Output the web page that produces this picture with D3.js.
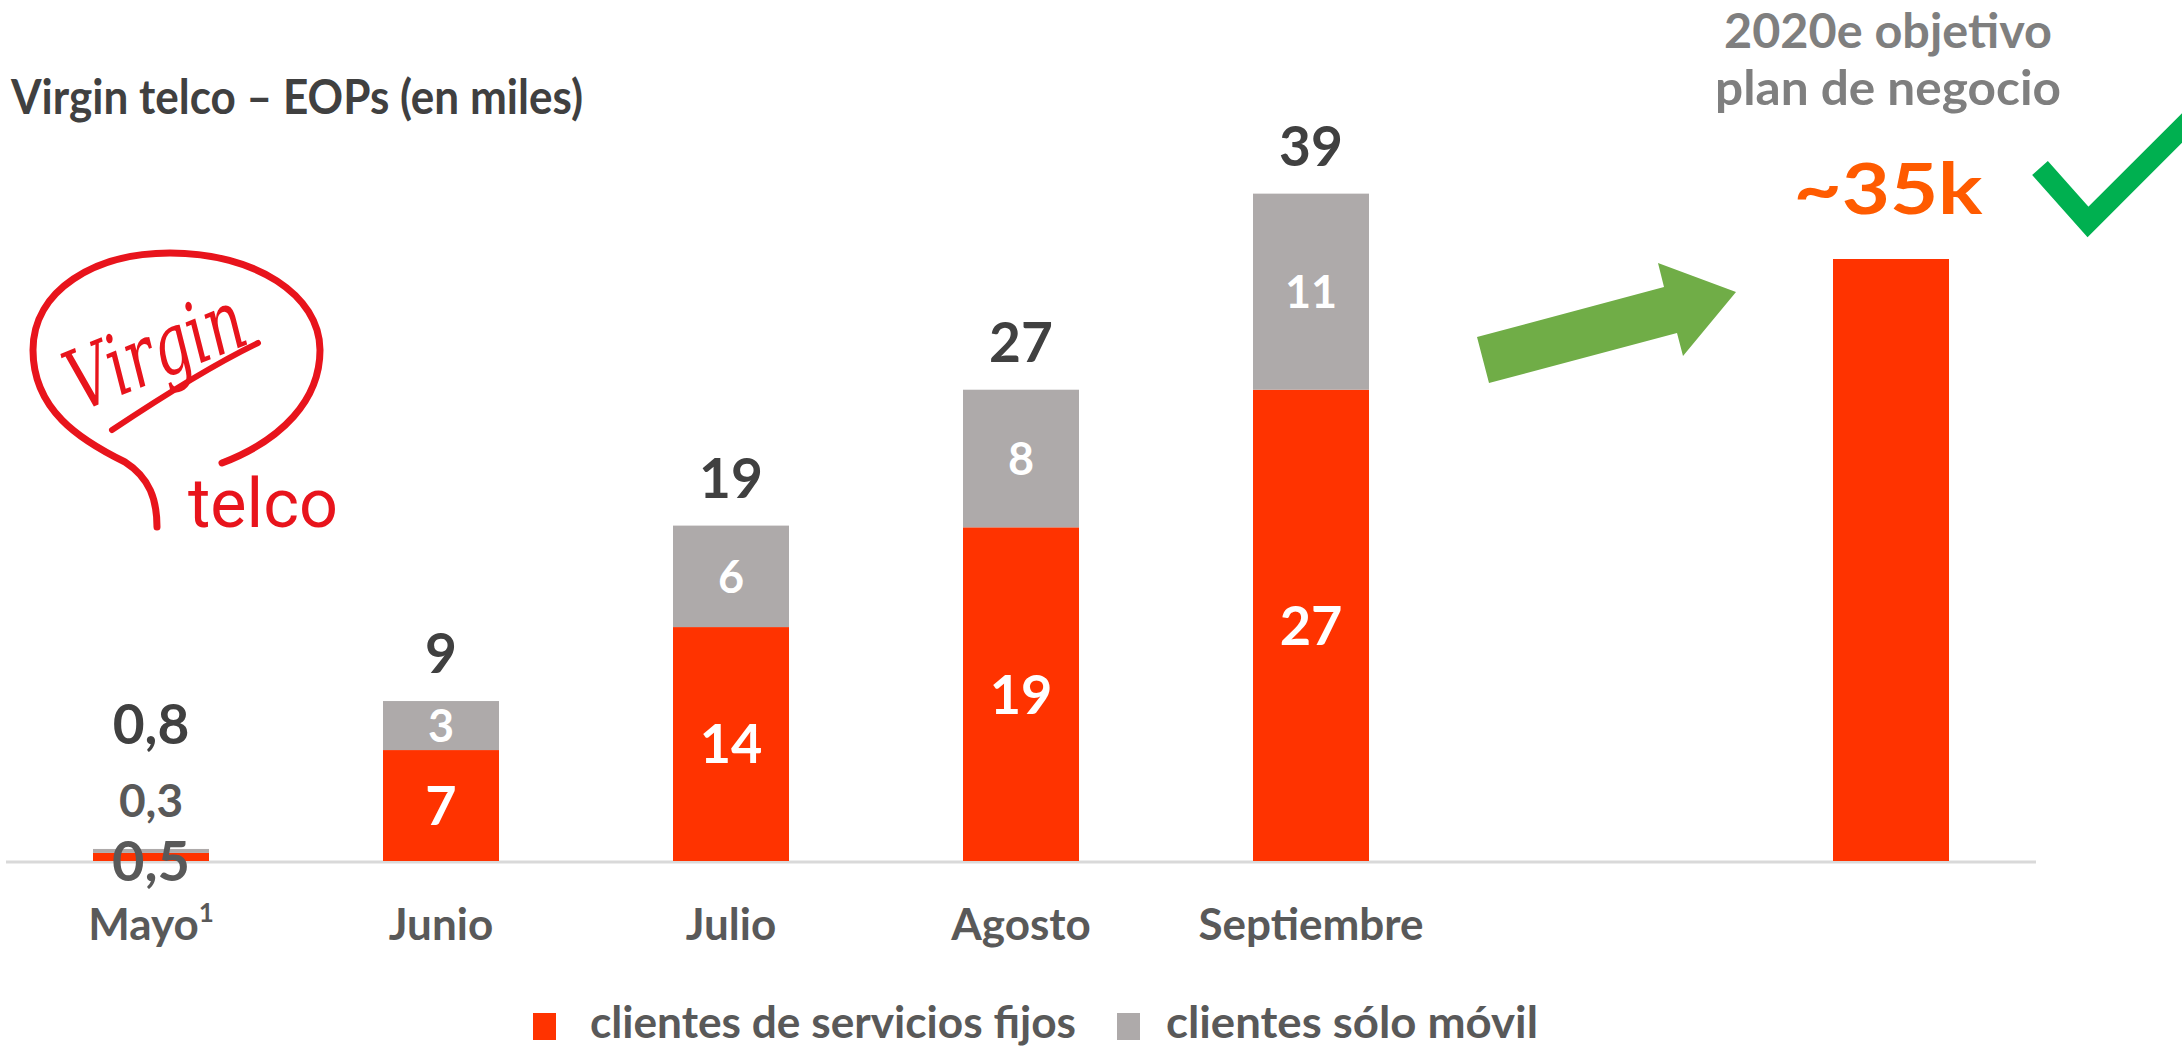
<!DOCTYPE html>
<html>
<head>
<meta charset="utf-8">
<script src="https://cdn.jsdelivr.net/npm/d3@7"></script>
<style>
  html, body { margin: 0; padding: 0; background: #fff; }
  svg { display: block; }
</style>
</head>
<body>
<div id="main"></div>
<script>
/* Size */
const width = 2182, height = 1046;

/* Data (miles de clientes) */
const months = ["Mayo", "Junio", "Julio", "Agosto", "Septiembre"];
const fijos = [0.47, 6.45, 13.6, 19.4, 27.4];
const movil = [0.23, 2.85, 5.9, 8.0, 11.4];
const totalLabels = ["0,8", "9", "19", "27", "39"];
const fijosLabels = ["0,5", "7", "14", "19", "27"];
const movilLabels = ["0,3", "3", "6", "8", "11"];
const targetKey = "2020e";
const targetValue = 35;
const seriesNames = ["clientes de servicios fijos", "clientes sólo móvil"];

const red = "#ff3300", grey = "#aeaaaa", dark = "#404040", mid = "#595959";
const font = "Lato, 'Open Sans', sans-serif";

const svg = d3.select("#main").append("svg")
  .attr("width", width).attr("height", height);

// helper: squeeze text to the width it has in the original
function fit(sel, w) {
  sel.attr("textLength", w).attr("lengthAdjust", "spacingAndGlyphs");
}

/* Scales */
const x = d3.scaleBand()
  .domain([...months, "gap", targetKey])
  .range([6, 2036])
  .paddingInner(0.6)
  .paddingOuter(0.3);
const y = d3.scaleLinear().domain([0, 40]).range([861, 173]);

const rows = months.map((m, i) => ({month: m, fijos: fijos[i], movil: movil[i], i: i}));
const stacked = d3.stack().keys(["fijos", "movil"])(rows);
const colors = {fijos: red, movil: grey};

/* Title */
svg.append("text")
  .attr("x", 11).attr("y", 114)
  .attr("font-family", font).attr("font-weight", 700).attr("font-size", 48)
  .attr("fill", dark)
  .text("Virgin telco – EOPs (en miles)")
  .call(fit, 572);

/* Logo */
const logoRed = "#e8141c";
const logo = svg.append("g").attr("fill", "none").attr("stroke", logoRed);
logo.append("path")
  .attr("d", "M157,527 C157,500 150,478 125,462 C80,440 33,410 33,350 C33,290 95,253 170,253 C255,253 320,295 320,350 C320,400 282,440 222,463")
  .attr("stroke-width", 7).attr("stroke-linecap", "round");
logo.append("path")
  .attr("d", "M112,430 C160,398 210,366 258,343")
  .attr("stroke-width", 6).attr("stroke-linecap", "round");
svg.append("text")
  .attr("transform", "translate(80,412) rotate(-22)")
  .attr("font-family", "'DejaVu Serif', serif").attr("font-style", "italic")
  .attr("font-size", 84).attr("fill", logoRed)
  .text("Virgin")
  .call(fit, 185);
svg.append("text")
  .attr("x", 188).attr("y", 527)
  .attr("font-family", "Roboto, 'Noto Sans', sans-serif").attr("font-weight", 400).attr("font-size", 68)
  .attr("fill", logoRed)
  .text("telco")
  .call(fit, 150);

/* Baseline */
svg.append("line")
  .attr("x1", x.range()[0]).attr("x2", x.range()[1])
  .attr("y1", y(0) + 1).attr("y2", y(0) + 1)
  .attr("stroke", "#d9d9d9").attr("stroke-width", 3);

/* Bars */
const layers = svg.selectAll("g.layer").data(stacked).enter()
  .append("g").attr("class", "layer").attr("fill", d => colors[d.key]);
layers.selectAll("rect").data(d => d).enter().append("rect")
  .attr("x", d => x(d.data.month))
  .attr("width", x.bandwidth())
  .attr("y", d => y(d[1]))
  .attr("height", d => y(d[0]) - y(d[1]));

svg.append("rect")
  .attr("x", x(targetKey)).attr("width", x.bandwidth())
  .attr("y", y(targetValue)).attr("height", y(0) - y(targetValue))
  .attr("fill", red);

/* Segment labels */
const cx = m => x(m) + x.bandwidth() / 2;
rows.forEach(r => {
  const top = y(r.fijos + r.movil);
  const small = y(0) - top < 30;
  // fijos
  const fFs = small ? 56 : 54;
  svg.append("text")
    .attr("x", cx(r.month))
    .attr("y", (y(0) + y(r.fijos)) / 2 + 0.36 * fFs + (small ? 4 : 0))
    .attr("text-anchor", "middle")
    .attr("font-family", font).attr("font-weight", 700).attr("font-size", fFs)
    .attr("fill", small ? mid : "#fff")
    .text(fijosLabels[r.i]);
  // movil
  const mFs = small ? 46 : 45;
  svg.append("text")
    .attr("x", cx(r.month))
    .attr("y", small ? top - 32 : (y(r.fijos) + top) / 2 + 0.36 * mFs)
    .attr("text-anchor", "middle")
    .attr("font-family", font).attr("font-weight", 700).attr("font-size", mFs)
    .attr("fill", small ? mid : "#fff")
    .text(movilLabels[r.i]);
  // total
  svg.append("text")
    .attr("x", cx(r.month))
    .attr("y", small ? top - 105 : top - 28)
    .attr("text-anchor", "middle")
    .attr("font-family", font).attr("font-weight", 700).attr("font-size", 55)
    .attr("fill", dark)
    .text(totalLabels[r.i]);
});

/* X axis */
const axis = svg.append("g")
  .attr("transform", "translate(0,940)")
  .call(d3.axisBottom(x).tickValues(months).tickSize(0).tickPadding(0));
axis.select(".domain").remove();
axis.selectAll("text")
  .attr("y", 0).attr("dy", null)
  .attr("font-family", font).attr("font-weight", 700).attr("font-size", 44)
  .attr("fill", mid);
axis.selectAll("text").filter(d => d === "Mayo")
  .append("tspan").attr("font-size", 26).attr("dy", -18).text("1");

/* Target annotation */
const tcx = cx(targetKey) - 3;
svg.append("text")
  .attr("x", tcx).attr("y", 48).attr("text-anchor", "middle")
  .attr("font-family", font).attr("font-weight", 700).attr("font-size", 47)
  .attr("fill", "#7f7f7f").text("2020e objetivo").call(fit, 328);
svg.append("text")
  .attr("x", tcx).attr("y", 105).attr("text-anchor", "middle")
  .attr("font-family", font).attr("font-weight", 700).attr("font-size", 47)
  .attr("fill", "#7f7f7f").text("plan de negocio").call(fit, 346);
svg.append("text")
  .attr("x", tcx).attr("y", 214).attr("text-anchor", "middle")
  .attr("font-family", font).attr("font-weight", 700).attr("font-size", 70)
  .attr("fill", "#ff5b00").text("~35k").call(fit, 189);

/* Check mark */
svg.append("polyline")
  .attr("points", "2040,168 2088,222 2192,118")
  .attr("fill", "none").attr("stroke", "#00b050").attr("stroke-width", 21)
  .attr("stroke-linejoin", "miter");

/* Green arrow */
svg.append("polygon")
  .attr("points", "1477,337 1664,287 1658,263 1736,292 1683,356 1677,333 1489,383")
  .attr("fill", "#70ad47");

/* Legend */
const legend = [
  {name: seriesNames[0], color: red, sx: 533, tx: 590, w: 486},
  {name: seriesNames[1], color: grey, sx: 1117, tx: 1166, w: 372}
];
const lg = svg.selectAll("g.legend").data(legend).enter().append("g").attr("class", "legend");
lg.append("rect")
  .attr("x", d => d.sx).attr("y", 1013).attr("width", 23).attr("height", 27)
  .attr("fill", d => d.color);
lg.append("text")
  .attr("x", d => d.tx).attr("y", 1038)
  .attr("font-family", font).attr("font-weight", 700).attr("font-size", 43)
  .attr("fill", mid)
  .text(d => d.name)
  .each(function(d) { d3.select(this).call(fit, d.w); });
</script>
</body>
</html>
